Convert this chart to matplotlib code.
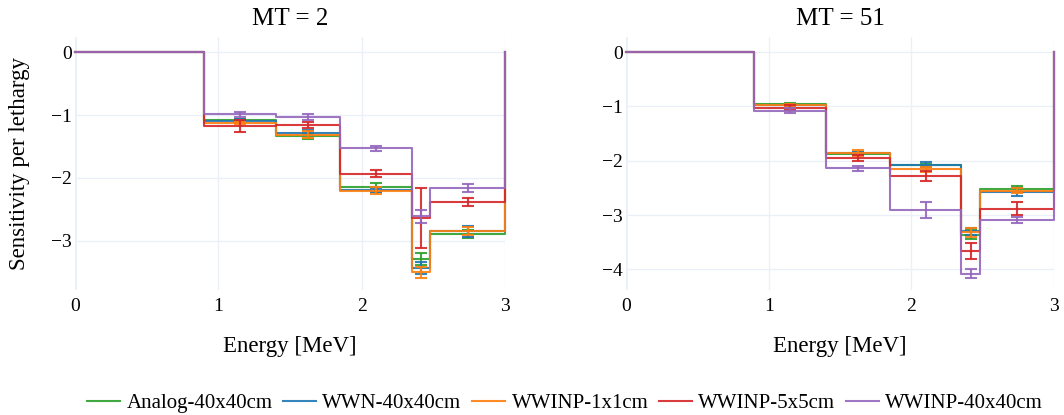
import numpy as np
import matplotlib
matplotlib.use("Agg")
import matplotlib.pyplot as plt

plt.rcParams["font.family"] = ["Liberation Serif", "DejaVu Serif"]

# energy group edges [MeV]
edges = [0.0, 0.9, 1.4, 1.85, 2.35, 2.48, 3.0]

labels = ["Analog-40x40cm", "WWN-40x40cm", "WWINP-1x1cm", "WWINP-5x5cm", "WWINP-40x40cm"]
colors = ["#2ca02c", "#1f77b4", "#ff7f0e", "#d62728", "#9467bd"]

# sensitivity per lethargy, groups 2..6 (group 1 is zero)
mt2_vals = [
    [-1.08, -1.33, -2.15, -3.29, -2.89],
    [-1.09, -1.28, -2.19, -3.43, -2.85],
    [-1.13, -1.31, -2.20, -3.50, -2.84],
    [-1.18, -1.16, -1.93, -2.64, -2.38],
    [-0.99, -1.03, -1.53, -2.61, -2.16],
]
mt2_errs = [
    [0.02, 0.05, 0.07, 0.10, 0.06],
    [0.02, 0.04, 0.03, 0.09, 0.08],
    [0.02, 0.05, 0.05, 0.09, 0.06],
    [0.095, 0.045, 0.05, 0.48, 0.065],
    [0.045, 0.05, 0.04, 0.10, 0.07],
]
mt51_vals = [
    [-0.96, -1.87, -2.08, -3.36, -2.52],
    [-0.97, -1.86, -2.07, -3.30, -2.58],
    [-0.98, -1.85, -2.16, -3.32, -2.55],
    [-1.02, -1.94, -2.28, -3.66, -2.88],
    [-1.08, -2.14, -2.91, -4.08, -3.09],
]
mt51_errs = [
    [0.02, 0.03, 0.03, 0.08, 0.06],
    [0.02, 0.03, 0.05, 0.07, 0.07],
    [0.02, 0.055, 0.05, 0.08, 0.05],
    [0.05, 0.055, 0.085, 0.14, 0.12],
    [0.045, 0.05, 0.15, 0.08, 0.055],
]

panels = [
    ("MT = 2", mt2_vals, mt2_errs, [0, -1, -2, -3], (-3.78, 0.24)),
    ("MT = 51", mt51_vals, mt51_errs, [0, -1, -2, -3, -4], (-4.38, 0.28)),
]

W, H = 1064, 415
fig = plt.figure(figsize=(W / 100, H / 100), dpi=100)

boxes = [(75, 505), (626, 1054)]
top_px, bot_px = 37, 290
grid_c = "#EBF0F8"

centers = [(a + b) / 2 for a, b in zip(edges[1:-1], edges[2:])]

handles = []
for (title, vals, errs, yticks, ylim), (x0, x1) in zip(panels, boxes):
    ax = fig.add_axes([x0 / W, 1 - bot_px / H, (x1 - x0) / W, (bot_px - top_px) / H])
    for sp in ax.spines.values():
        sp.set_visible(False)
    ax.set_xlim(0, 3)
    ax.set_ylim(*ylim)
    ax.set_xticks([0, 1, 2, 3])
    ax.set_yticks(yticks)
    ax.tick_params(length=0, labelsize=14, pad=6)
    ax.tick_params(axis="y", pad=2)
    ax.grid(True, color=grid_c, lw=1)
    ax.axvline(0, color=grid_c, lw=2, zorder=1)
    ax.set_axisbelow(True)

    for lab, c, v, e in zip(labels, colors, vals, errs):
        y = [0] + v + [0]
        ln, = ax.plot(edges, y, drawstyle="steps-post", color=c, lw=1.5,
                      alpha=0.9, label=lab, clip_on=False, zorder=3)
        ax.errorbar(centers, v, yerr=e, fmt="none", ecolor=c, elinewidth=1.5,
                    capsize=4.5, capthick=1.5, alpha=0.9, zorder=3)
        if title == "MT = 2":
            handles.append(ln)

    xc = (x0 + x1) / 2 / W
    fig.text(xc, 1 - 19 / H, title, ha="center", va="center", fontsize=18)
    fig.text(xc, 1 - 346 / H, "Energy [MeV]", ha="center", va="center", fontsize=16.5)

fig.text(20 / W, 1 - 163 / H, "Sensitivity per lethargy", rotation=90,
         ha="center", va="center", fontsize=16.5)

fig.legend(handles, labels, loc="center", bbox_to_anchor=(565 / W, 1 - 403 / H),
           ncol=5, frameon=False, fontsize=15, handlelength=1.6,
           handletextpad=0.3, columnspacing=0.5, borderpad=0, borderaxespad=0)

fig.savefig("out.png", dpi=100)
